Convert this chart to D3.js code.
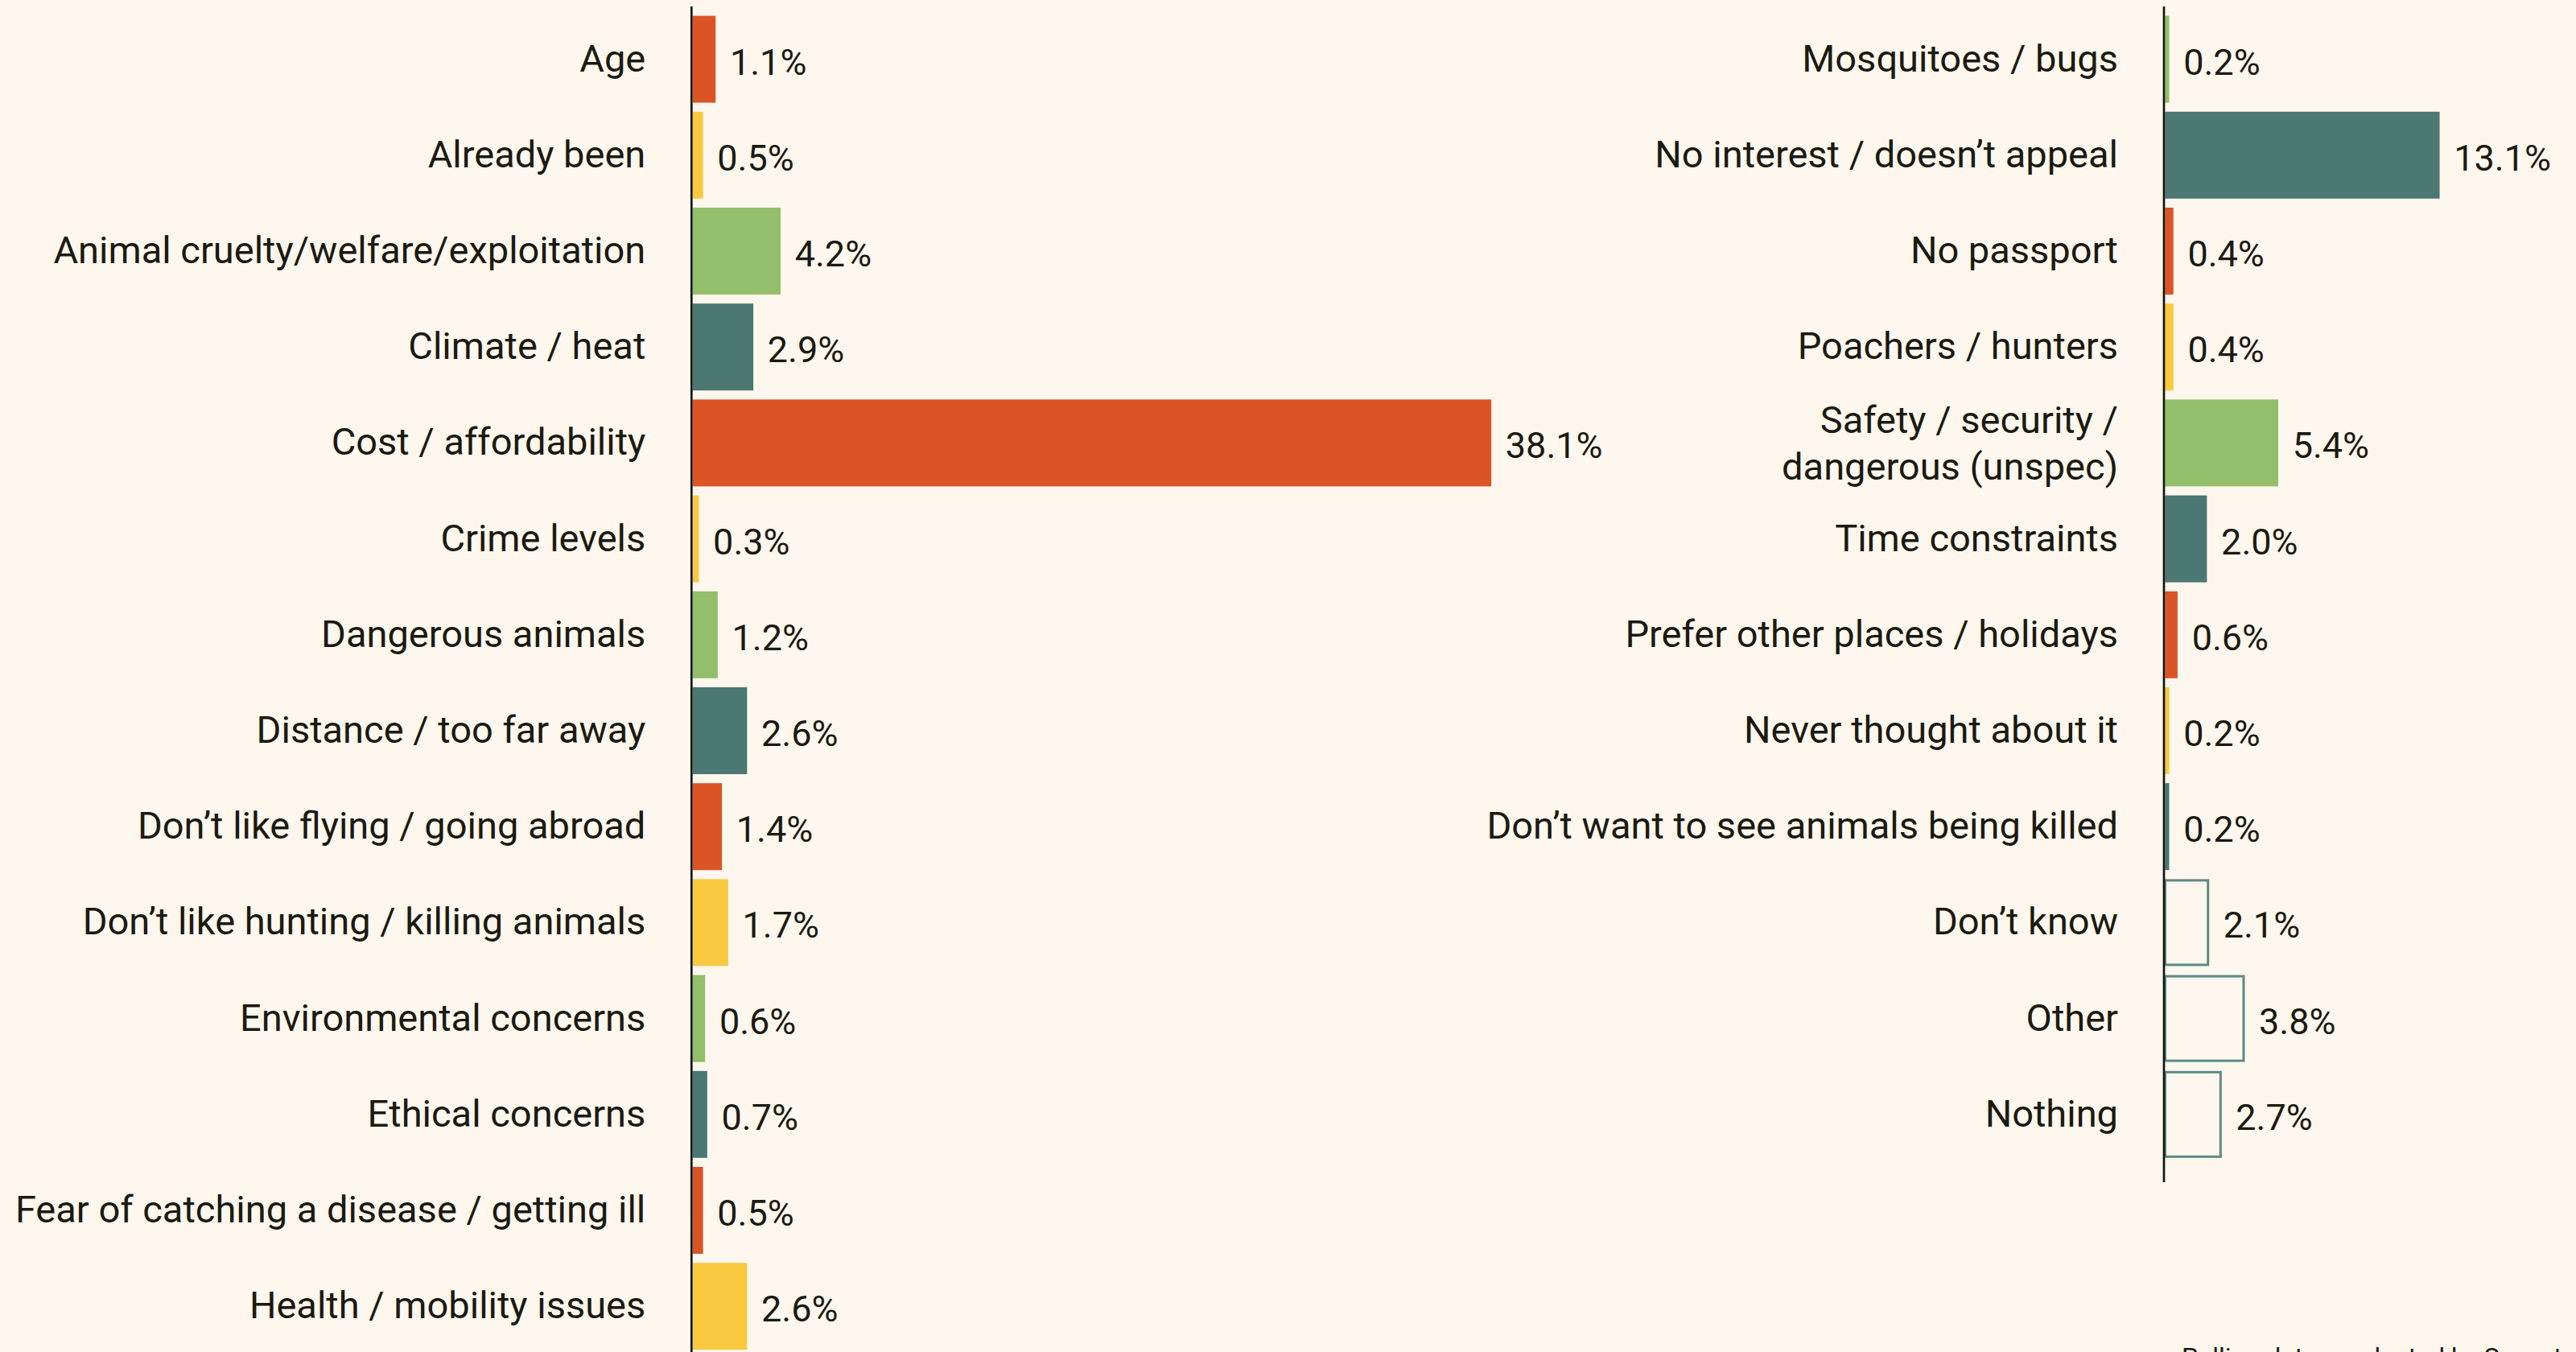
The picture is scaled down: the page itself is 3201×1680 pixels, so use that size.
<!DOCTYPE html>
<html>
<head>
<meta charset="utf-8">
<script src="https://cdn.jsdelivr.net/npm/d3@7"></script>
<style>
  html, body { margin: 0; padding: 0; background: #fef7ee; }
  svg { display: block; }
  .label text { font-family: Roboto, "Liberation Sans", sans-serif; font-size: 47px; fill: #1b1a10; }
  .value { font-family: Roboto, "Liberation Sans", sans-serif; font-size: 45px; fill: #1b1a10; }
  .footer { font-family: Roboto, "Liberation Sans", sans-serif; font-size: 32px; fill: #1b1a10; }
</style>
</head>
<body>
<svg id="chart" width="3201" height="1680"></svg>
<script>
var leftCategories = [
  "Age", "Already been", "Animal cruelty/welfare/exploitation", "Climate / heat",
  "Cost / affordability", "Crime levels", "Dangerous animals", "Distance / too far away",
  "Don\u2019t like flying / going abroad", "Don\u2019t like hunting / killing animals",
  "Environmental concerns", "Ethical concerns", "Fear of catching a disease / getting ill",
  "Health / mobility issues"
];
var leftValues = [1.1, 0.5, 4.2, 2.9, 38.1, 0.3, 1.2, 2.6, 1.4, 1.7, 0.6, 0.7, 0.5, 2.6];

var rightCategories = [
  "Mosquitoes / bugs", "No interest / doesn\u2019t appeal", "No passport", "Poachers / hunters",
  "Safety / security /\ndangerous (unspec)", "Time constraints", "Prefer other places / holidays",
  "Never thought about it", "Don\u2019t want to see animals being killed",
  "Don\u2019t know", "Other", "Nothing"
];
var rightValues = [0.2, 13.1, 0.4, 0.4, 5.4, 2.0, 0.6, 0.2, 0.2, 2.1, 3.8, 2.7];

var footerText = "Polling data conducted by Savanta";

// colour of each bar, by key
var palette = { orange: "#db5426", yellow: "#f9c940", green: "#93bf6a", teal: "#4b7873" };
var leftColours = ["orange", "yellow", "green", "teal", "orange", "yellow", "green", "teal",
                   "orange", "yellow", "green", "teal", "orange", "yellow"];
var rightColours = ["green", "teal", "orange", "yellow", "green", "teal", "orange", "yellow",
                    "teal", "none", "none", "none"];

var svg = d3.select("#chart");
var step = 119.2, topY = 14, pxPerPct = 26.05;

function panel(axisX, cats, vals, colours, axisEnd) {
  var data = cats.map(function(c, i) { return { cat: c, value: vals[i], colour: colours[i] }; });

  var y = d3.scaleBand()
      .domain(cats)
      .range([topY, topY + cats.length * step])
      .paddingInner(0.094)
      .paddingOuter(0.047);

  var x = d3.scaleLinear()
      .domain([0, 1])
      .range([0, pxPerPct]);

  var g = svg.append("g").attr("transform", "translate(" + axisX + ",0)");

  g.selectAll("rect")
    .data(data)
    .enter().append("rect")
      .attr("x", function(d) { return d.colour === "none" ? 1.5 : 1.3; })
      .attr("y", function(d) { return y(d.cat) + (d.colour === "none" ? 1.5 : 0); })
      .attr("width", function(d) { return d.colour === "none" ? x(d.value) - 1.5 : x(d.value); })
      .attr("height", function(d) { return d.colour === "none" ? y.bandwidth() - 3 : y.bandwidth(); })
      .attr("fill", function(d) { return d.colour === "none" ? "#fef7ee" : palette[d.colour]; })
      .attr("stroke", function(d) { return d.colour === "none" ? "#5b8a85" : null; })
      .attr("stroke-width", 3);

  g.selectAll(".value")
    .data(data)
    .enter().append("text")
      .attr("class", "value")
      .attr("x", function(d) { return x(d.value) + 19; })
      .attr("y", function(d) { return y(d.cat) + y.bandwidth() / 2 + 19; })
      .text(function(d) { return d3.format(".1f")(d.value) + "%"; });

  var axis = g.append("g")
      .attr("class", "label")
      .call(d3.axisLeft(y).tickSize(0).tickPadding(57));
  axis.select(".domain").remove();
  axis.attr("font-family", null).attr("font-size", null);
  axis.selectAll("text")
      .attr("fill", null)
      .each(function(d) {
        var lines = d.split("\n");
        if (lines.length > 1) {
          var t = d3.select(this).text(null).attr("dy", null);
          lines.forEach(function(line, i) {
            t.append("tspan")
              .attr("x", -57)
              .attr("y", -12 + i * 58)
              .text(line);
          });
        }
      });

  g.append("line")
      .attr("x1", 0).attr("x2", 0)
      .attr("y1", 8).attr("y2", axisEnd)
      .attr("stroke", "#161611")
      .attr("stroke-width", 2.7);
}

panel(859.3, leftCategories, leftValues, leftColours, 1680);
panel(2689, rightCategories, rightValues, rightColours, 1469);

svg.append("text")
    .attr("class", "footer")
    .attr("x", 2711)
    .attr("y", 1697)
    .text(footerText);
</script>
</body>
</html>
